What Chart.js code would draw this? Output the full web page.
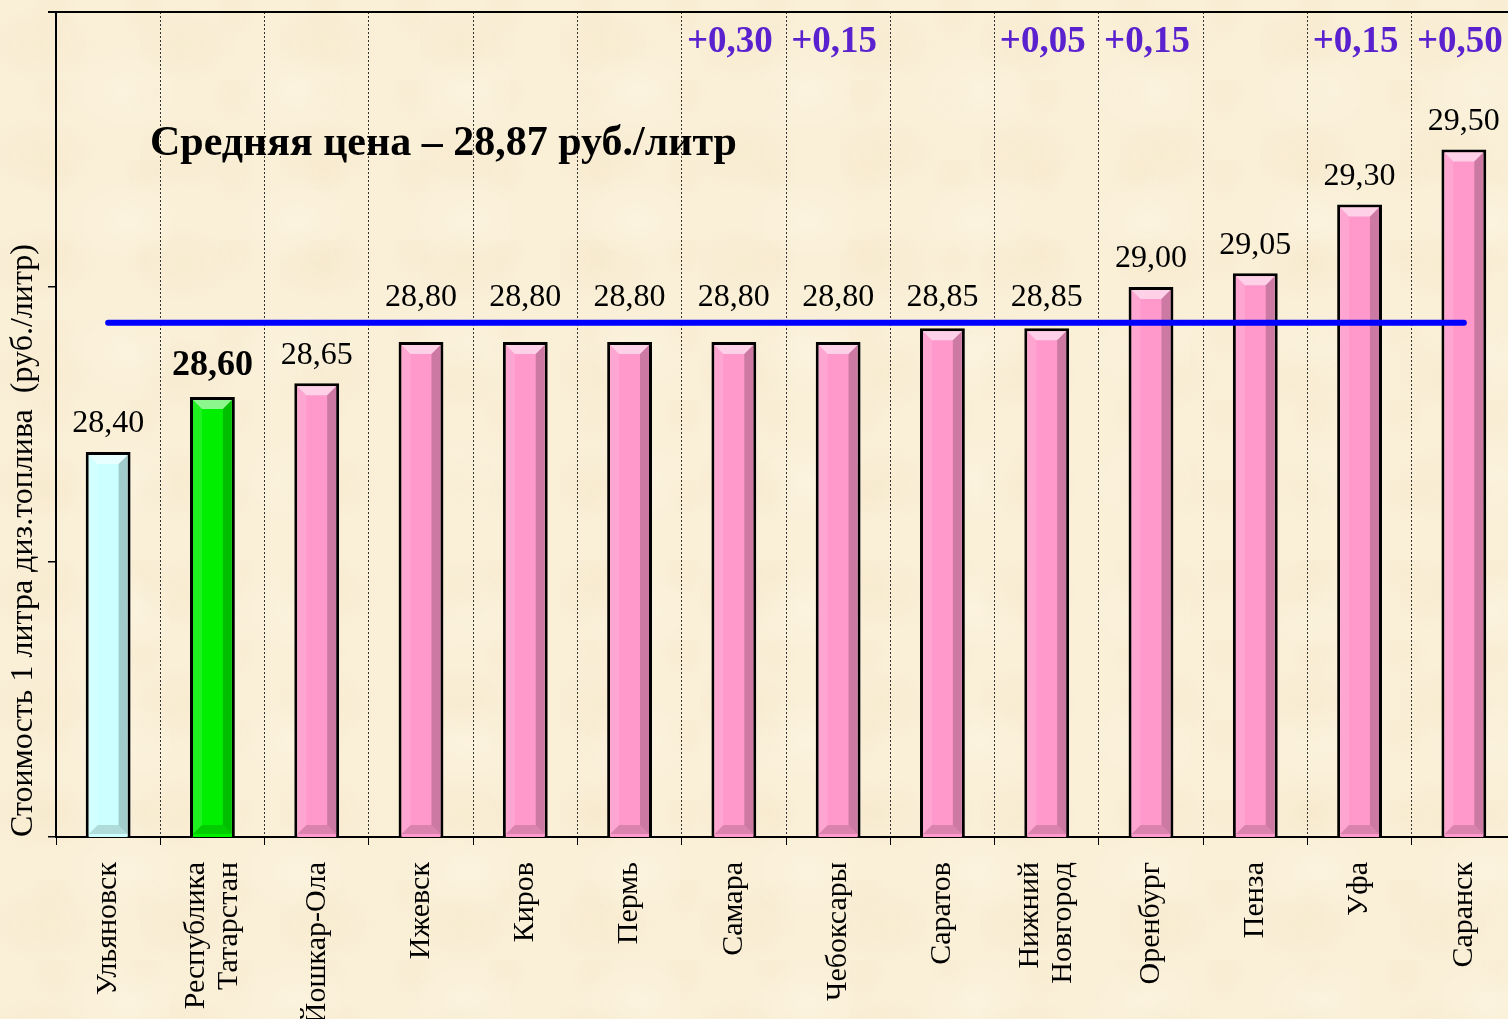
<!DOCTYPE html>
<html lang="ru">
<head>
<meta charset="utf-8">
<title>Стоимость дизельного топлива</title>
<script src="https://cdn.jsdelivr.net/npm/chart.js@4.4.1/dist/chart.umd.min.js"></script>
<style>
  html, body { margin: 0; padding: 0; overflow: hidden; }
  body { width: 1508px; height: 1019px; background: #faefd6; }
  #wrap {
    position: absolute; left: 0; top: 0; width: 1516px; height: 1019px;
    background-color: #faefd7;
    background-image:
      radial-gradient(ellipse at 30% 40%, rgba(238, 222, 185, 0.22), transparent 40%),
      radial-gradient(ellipse at 75% 70%, rgba(255, 250, 235, 0.35), transparent 35%),
      radial-gradient(ellipse at 60% 15%, rgba(240, 225, 190, 0.18), transparent 30%);
    background-size: 140px 110px, 170px 130px, 90px 80px;
  }
</style>
</head>
<body>
<div id="wrap"><canvas id="price-chart" width="1516" height="1019"></canvas></div>
<script>
const cities = [
    "Ульяновск", ["Республика", "Татарстан"], "Йошкар-Ола", "Ижевск", "Киров",
    "Пермь", "Самара", "Чебоксары", "Саратов", ["Нижний", "Новгород"],
    "Оренбург", "Пенза", "Уфа", "Саранск"
];
const prices = [28.40, 28.60, 28.65, 28.80, 28.80, 28.80, 28.80, 28.80, 28.85, 28.85, 29.00, 29.05, 29.30, 29.50];
const priceRise = [null, null, null, null, null, null, 0.30, 0.15, null, 0.05, 0.15, null, 0.15, 0.50];
const avgPrice = 28.87;
const avgLine = [28.87, 28.87, 28.87, 28.87, 28.87, 28.87, 28.87, 28.87, 28.87, 28.87, 28.87, 28.87, 28.87, 28.87];
const yMin = 27, yMax = 30, yStep = 1;

const serif = '"Liberation Serif", "Times New Roman", serif';
const barColors = ["#ccffff", "#00ee00", "#ff99cc", "#ff99cc", "#ff99cc", "#ff99cc", "#ff99cc",
    "#ff99cc", "#ff99cc", "#ff99cc", "#ff99cc", "#ff99cc", "#ff99cc", "#ff99cc"];

function fmt(v) {
    return v.toFixed(2).replace(".", ",");
}

function poly(ctx, pts, fill) {
    ctx.beginPath();
    ctx.moveTo(pts[0][0], pts[0][1]);
    for (let i = 1; i < pts.length; i++) ctx.lineTo(pts[i][0], pts[i][1]);
    ctx.closePath();
    ctx.fillStyle = fill;
    ctx.fill();
}

// bevel look on the bars, like the old office charts
const bevelPlugin = {
    id: "bevel",
    afterDatasetDraw(chart, args) {
        if (args.index !== 1) return;
        const ctx = chart.ctx;
        const bottom = chart.chartArea.bottom;
        args.meta.data.forEach(bar => {
            const p = bar.getProps(["x", "y", "base", "width"], true);
            const l = p.x - p.width / 2 + 3, r = p.x + p.width / 2 - 3;
            const t = p.y + 3, b = Math.min(p.base, bottom) - 3;
            const s = 9;
            ctx.save();
            poly(ctx, [[l, t], [r, t], [r - s, t + s], [l + s, t + s]], "rgba(255,255,255,0.55)");
            poly(ctx, [[r, t], [r, b], [r - s, b - s], [r - s, t + s]], "rgba(0,0,0,0.2)");
            poly(ctx, [[l, b], [r, b], [r - s, b - s], [l + s, b - s]], "rgba(0,0,0,0.14)");
            poly(ctx, [[l, t], [l + s, t + s], [l + s, b - s], [l, b]], "rgba(255,255,255,0.12)");
            ctx.restore();
        });
    }
};

const labelPlugin = {
    id: "labels",
    afterDatasetsDraw(chart) {
        const ctx = chart.ctx;
        const area = chart.chartArea;
        const xScale = chart.scales.x;
        const yScale = chart.scales.y;
        const avgY = yScale.getPixelForValue(avgPrice);
        const bars = chart.getDatasetMeta(1).data;

        ctx.save();
        // top frame line
        ctx.strokeStyle = "#000";
        ctx.lineWidth = 2;
        ctx.beginPath();
        ctx.moveTo(area.left - 8, area.top);
        ctx.lineTo(area.right, area.top);
        ctx.stroke();

        ctx.textAlign = "center";
        ctx.textBaseline = "middle";
        bars.forEach((bar, i) => {
            let cy = bar.y - 28;
            if (bar.y > avgY && bar.y - avgY < 40) cy = avgY - 25;
            if (i === 1) {
                ctx.font = "bold 36px " + serif;
                cy = bar.y - 31;
            } else {
                ctx.font = "32px " + serif;
            }
            ctx.fillStyle = "#000";
            ctx.fillText(fmt(prices[i]), bar.x, cy);

            if (priceRise[i] !== null) {
                ctx.font = "bold 37px " + serif;
                ctx.fillStyle = "#5a22cf";
                ctx.fillText("+" + fmt(priceRise[i]), bar.x - 4, area.top + 30);
            }
        });

        // category names, rotated, lines centred on the category
        ctx.font = "30px " + serif;
        ctx.fillStyle = "#000";
        ctx.textAlign = "right";
        cities.forEach((name, i) => {
            const lines = Array.isArray(name) ? name : [name];
            const cx = xScale.getPixelForValue(i);
            const lh = 33;
            lines.forEach((line, k) => {
                const lx = cx + (k - (lines.length - 1) / 2) * lh;
                ctx.save();
                ctx.translate(lx, area.bottom + 25);
                ctx.rotate(-Math.PI / 2);
                ctx.fillText(line, 0, 0);
                ctx.restore();
            });
        });

        ctx.font = "bold 42px " + serif;
        ctx.textAlign = "left";
        ctx.fillText("Средняя цена – 28,87 руб./литр", 150, 144);
        ctx.restore();
    }
};

const canvas = document.querySelector("#price-chart");

const data = {
    labels: cities,
    datasets: [
        {
            type: "line",
            label: "Средняя цена",
            data: avgLine,
            borderColor: "#0000ff",
            borderWidth: 6,
            borderCapStyle: "round",
            pointRadius: 0,
            order: 0
        },
        {
            type: "bar",
            label: "Стоимость",
            data: prices,
            backgroundColor: barColors,
            borderColor: "#000",
            borderWidth: 3,
            borderSkipped: false,
            categoryPercentage: 1,
            barPercentage: 0.43,
            order: 1
        }
    ]
};

const config = {
    data: data,
    options: {
        responsive: false,
        animation: false,
        layout: { padding: { top: 12, right: 0, left: 0, bottom: 0 } },
        plugins: {
            legend: { display: false },
            tooltip: { enabled: false }
        },
        scales: {
            x: {
                grid: {
                    offset: true,
                    color: "#333",
                    lineWidth: 1,
                    tickLength: 8,
                    tickColor: "#000"
                },
                border: { display: true, color: "#000", width: 2, dash: [2, 2] },
                ticks: { display: false, autoSkip: false },
                afterFit(scale) { scale.height = 182; }
            },
            y: {
                min: yMin,
                max: yMax,
                grid: {
                    drawOnChartArea: false,
                    drawTicks: true,
                    tickLength: 8,
                    color: "#000",
                    lineWidth: 1.5
                },
                border: { display: true, color: "#000", width: 2, dash: [] },
                ticks: { display: false, stepSize: yStep },
                title: {
                    display: true,
                    text: "Стоимость 1 литра диз.топлива  (руб./литр)",
                    color: "#000",
                    font: { family: serif, size: 32 },
                    align: "start",
                    padding: { top: 4, bottom: 0 }
                },
                afterFit(scale) { scale.width = 56; }
            }
        }
    },
    plugins: [bevelPlugin, labelPlugin]
};

const priceChart = new Chart(canvas, config);
</script>
</body>
</html>
